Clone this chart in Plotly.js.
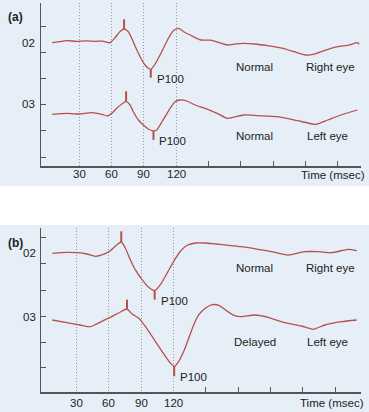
<!DOCTYPE html>
<html>
<head>
<meta charset="utf-8">
<script src="https://cdn.plot.ly/plotly-3.0.1.min.js"></script>
<style>
html,body{margin:0;padding:0;background:#fff;}
#chart{width:369px;height:412px;}
</style>
</head>
<body>
<div id="chart"></div>
<script>
// ---- data (time in msec, amplitude in arbitrary units relative to baseline) ----
const aRightT = [5, 12, 18.3, 27.6, 36, 46, 52, 58.7, 63.4, 67.8, 71.7, 75.7, 78.8, 81.9, 85, 88.1, 91.2, 94.2, 96.5, 98.9, 103.5, 108.2, 112.8, 117.4, 122.1, 127.1, 133, 142.9, 152, 167.5, 175, 183, 193, 204.6, 218, 229.4, 240.2, 248, 257.2, 269.6, 280, 288.1, 289.7];
const aRightV = [0, 1, 2, 1.4, 1.8, 1.4, 1.6, 0, 5, 11, 13.7, 11, 4.4, -3.3, -10.6, -17.3, -22.3, -25.6, -26.6, -24, -15.6, -5.6, 4.4, 12, 14.4, 11, 7.7, 2.7, 2.5, -2.3, -1.2, -0.6, -1.3, -3, -5.5, -9, -12.3, -11.5, -8, -4, -2.5, 0, -1.6];
const aLeftT = [5, 18.3, 25, 30.9, 41.8, 51, 56.6, 60.3, 64.9, 69.6, 73.6, 77.3, 80.3, 85, 89.6, 94.2, 99, 102, 105.1, 109.7, 114.4, 119, 123.7, 129.9, 137.6, 146.9, 158, 167.4, 182.8, 195.5, 214, 232.6, 249.7, 260.5, 272.7, 288];
const aLeftV = [0, 1, 0.5, 0.3, 1.6, 0, -1.7, 1, 6, 10.3, 12.6, 9.3, 2.6, -5.7, -10.7, -14.7, -16.7, -15.7, -10.7, -2.4, 6, 12.6, 14.3, 13.3, 9.3, 6, 1, -4, -0.7, -1.4, -2.4, -6.4, -10, -5.7, -0.7, 4.3];
const bRightT = [7.6, 21, 30.4, 39.7, 47.4, 53.6, 59.8, 66, 71.6, 75.3, 80, 84.6, 90.9, 97, 102.6, 107.9, 114.2, 120.3, 126.5, 132.8, 140.5, 149.8, 159.1, 171.5, 183, 198.5, 211, 226.4, 242, 254.4, 266.9, 282.3, 290.1];
const bRightV = [0, 1, 0.6, -0.7, -3, -1.5, 1.3, 7, 11.3, 5.3, -6.4, -16.4, -26.4, -34, -37.4, -31.4, -19.7, -8, 2, 8, 10.3, 10.3, 9.3, 8, 6.6, 4, 1.6, -1.7, 1.6, 1.6, 0.6, 4, 2.6];
const bLeftT = [7.6, 21, 33.4, 42.7, 47.4, 53.6, 61.4, 69.1, 76.9, 81.6, 87.7, 93.9, 100.2, 106.3, 112.6, 117.2, 120.7, 125, 129.6, 134.3, 138.9, 143.6, 149.8, 156.1, 162.2, 170, 176.2, 183, 195.4, 207.8, 223.4, 238.9, 249.7, 260.6, 276.2, 290.1];
const bLeftV = [0, -2.7, -5, -6.7, -4.7, -1.3, 2.7, 7, 11, 6, 2, -6.3, -16.3, -26.3, -36.3, -43, -46.3, -41.3, -31.3, -18, -4.7, 5.3, 12, 15.3, 14.7, 8.7, 4.7, 3.3, 5, 2.7, -2.7, -6, -9.3, -5, -1.7, 0];

// peak / P100 markers: [latency, marker-end amplitude]
const aRightPeak = [71.7, 23.4],  aRightP100 = [96.5, -35];
const aLeftPeak  = [73.6, 23],    aLeftP100  = [99, -25.7];
const bRightPeak = [71.6, 22],    bRightP100 = [102.6, -46.4];
const bLeftPeak  = [76.9, 20.3],  bLeftP100  = [120.7, -56.3];

const xTickLabels = [30, 60, 90, 120];
const xMinorTicks = [150, 180, 210, 240, 270];
const channelLabels = ['02', '03'];
const conditionsA = ['Normal', 'Normal'];
const conditionsB = ['Normal', 'Delayed'];
const eyes = ['Right eye', 'Left eye'];

// ---- layout constants ----
const W = 369, H = 412;
const LINE = '#b5524a', AXIS = '#555555', TXT = '#222222';
const FONT = '"Liberation Sans Narrow", "Arial Narrow", "Liberation Sans", Arial, sans-serif';
const FS = 11.5;
const offA = {right: 123.3, left: 51.7};
const offB = {right: 138.7, left: 72};
const px = v => v / W, py = v => 1 - v / H;

function lineTrace(t, v, off, xa, ya) {
  return {x: t, y: v.map(d => d + off), xaxis: xa, yaxis: ya, mode: 'lines',
          line: {color: LINE, width: 1.3, shape: 'spline', smoothing: 0.6}, hoverinfo: 'skip', showlegend: false};
}
function markTrace(m, v, t, off, xa, ya) {
  const i = t.indexOf(m[0]);
  return {x: [m[0], m[0]], y: [v[i] + off, m[1] + off], xaxis: xa, yaxis: ya, mode: 'lines',
          line: {color: LINE, width: 2}, hoverinfo: 'skip', showlegend: false};
}

const data = [
  lineTrace(aRightT, aRightV, offA.right, 'x', 'y'),
  lineTrace(aLeftT, aLeftV, offA.left, 'x', 'y'),
  markTrace(aRightPeak, aRightV, aRightT, offA.right, 'x', 'y'),
  markTrace(aRightP100, aRightV, aRightT, offA.right, 'x', 'y'),
  markTrace(aLeftPeak, aLeftV, aLeftT, offA.left, 'x', 'y'),
  markTrace(aLeftP100, aLeftV, aLeftT, offA.left, 'x', 'y'),
  lineTrace(bRightT, bRightV, offB.right, 'x2', 'y2'),
  lineTrace(bLeftT, bLeftV, offB.left, 'x2', 'y2'),
  markTrace(bRightPeak, bRightV, bRightT, offB.right, 'x2', 'y2'),
  markTrace(bRightP100, bRightV, bRightT, offB.right, 'x2', 'y2'),
  markTrace(bLeftPeak, bLeftV, bLeftT, offB.left, 'x2', 'y2'),
  markTrace(bLeftP100, bLeftV, bLeftT, offB.left, 'x2', 'y2')
];

function xAxis(range, anchor) {
  return {domain: [px(41), px(361)], range: range, anchor: anchor,
    tickmode: 'array', tickvals: xTickLabels, showticklabels: false,
    ticks: '', showgrid: true, gridcolor: '#9a9a9a', gridwidth: 1, griddash: '1px,2px',
    showline: true, linecolor: AXIS, linewidth: 1.5, zeroline: false,
    minor: {tickmode: 'array', tickvals: xMinorTicks, ticks: 'inside', ticklen: 5,
            tickwidth: 1, tickcolor: AXIS, showgrid: false},
    fixedrange: true};
}
function yAxis(domain, range, tv, anchor) {
  return {domain: domain, range: range, anchor: anchor,
    tickmode: 'array', tickvals: tv, ticks: 'inside', ticklen: 5, tickwidth: 1, tickcolor: AXIS,
    showticklabels: false, showgrid: false, zeroline: false,
    showline: true, linecolor: AXIS, linewidth: 1.5, fixedrange: true};
}

function ann(text, x, y, opts) {
  return Object.assign({text: text, x: px(x), y: py(y), xref: 'paper', yref: 'paper',
    showarrow: false, xanchor: 'center', yanchor: 'middle',
    font: {family: FONT, size: FS, color: TXT}}, opts || {});
}
function p100(m, off, xr, yr) {
  return {text: 'P100', x: m[0], y: m[1] + off, xref: xr, yref: yr, showarrow: false,
    xanchor: 'left', yanchor: 'middle', xshift: 4, yshift: -1,
    font: {family: FONT, size: FS, color: TXT}};
}
function xLabels(xr, yPix) {
  return xTickLabels.map(v => ({text: String(v), x: v, y: py(yPix), xref: xr, yref: 'paper',
    showarrow: false, xanchor: 'center', yanchor: 'middle',
    font: {family: FONT, size: FS, color: TXT}}));
}

const annotations = [
  ann('<b>(a)</b>', 15.5, 17, {font: {family: '"Liberation Sans", Arial, sans-serif', size: 12, color: TXT}}),
  ann('<b>(b)</b>', 15.5, 242.7, {font: {family: '"Liberation Sans", Arial, sans-serif', size: 12, color: TXT}}),
  ann(channelLabels[0], 28.5, 43), ann(channelLabels[1], 28.5, 104),
  ann(channelLabels[0], 29.5, 253), ann(channelLabels[1], 29, 316.7),
  ann(conditionsA[0], 254, 67), ann(eyes[0], 330.7, 67),
  ann(conditionsA[1], 254, 136), ann(eyes[1], 327, 136),
  ann(conditionsB[0], 254, 267.7), ann(eyes[0], 330.7, 267.7),
  ann(conditionsB[1], 254.7, 341.7), ann(eyes[1], 327, 341.7),
  ann('Time (msec)', 332.5, 175), ann('Time (msec)', 332, 403.3),
  p100(aRightP100, offA.right, 'x', 'y'), p100(aLeftP100, offA.left, 'x', 'y'),
  p100(bRightP100, offB.right, 'x2', 'y2'), p100(bLeftP100, offB.left, 'x2', 'y2')
].concat(xLabels('x', 174), xLabels('x2', 403));

const shapes = [
  {type: 'rect', xref: 'paper', yref: 'paper', x0: 0, x1: 1, y0: py(186), y1: py(0),
   fillcolor: '#e6eef8', line: {width: 0}, layer: 'below'},
  {type: 'rect', xref: 'paper', yref: 'paper', x0: 0, x1: 1, y0: py(412), y1: py(225),
   fillcolor: '#e6eef8', line: {width: 0}, layer: 'below'}
];

const layout = {
  width: W, height: H, margin: {l: 0, r: 0, t: 0, b: 0},
  paper_bgcolor: '#ffffff', plot_bgcolor: 'rgba(0,0,0,0)',
  showlegend: false,
  xaxis: xAxis([-5.3, 291.4], 'y'),
  yaxis: yAxis([py(166), py(3)], [0, 163], [9, 35.2, 61.4, 87.6, 113.8, 140], 'x'),
  xaxis2: xAxis([-2.9, 294.1], 'y2'),
  yaxis2: yAxis([py(392), py(228)], [0, 164], [24.3, 50, 76, 102, 128.5, 154.3], 'x2'),
  annotations: annotations,
  shapes: shapes
};

Plotly.newPlot('chart', data, layout, {displayModeBar: false, staticPlot: true});
</script>
</body>
</html>
